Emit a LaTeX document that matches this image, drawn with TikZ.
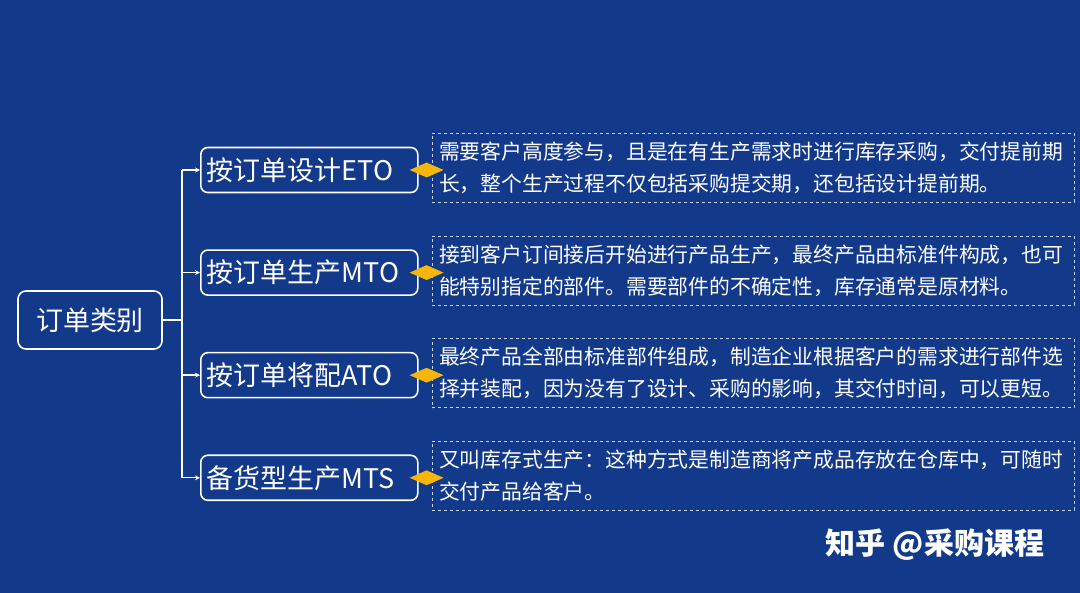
\documentclass[tikz,border=0pt]{standalone}
\usepackage{fontspec}
\setmainfont{Noto Sans CJK SC}
\usepackage{xcolor}
\usepackage{tikz}
\usetikzlibrary{arrows.meta,positioning,shapes.geometric}
\definecolor{bgblue}{RGB}{18,57,138}
\definecolor{gold}{RGB}{247,183,10}
\definecolor{dashline}{RGB}{200,214,240}

\begin{document}
\begin{tikzpicture}[
  x=1pt, y=-1pt,
  node distance=56pt,
  rootbox/.style={rectangle, rounded corners=8pt, draw=white, line width=1.6pt, text=white, font=\fontsize{27}{30}\selectfont, minimum width=144pt, minimum height=58pt},
  kindbox/.style={rectangle, rounded corners=7pt, draw=white, line width=1.6pt, text=white, font=\fontsize{27}{30}\selectfont, text width=205pt, align=left, inner xsep=6pt, minimum height=45pt},
  notebox/.style={rectangle, draw=dashline, dashed, line width=0.8pt, text=white, font=\fontsize{20.8}{32}\selectfont, text width=628pt, align=left, inner xsep=7pt, minimum height=69pt},
  gem/.style={diamond, fill=gold, minimum width=34pt, minimum height=15pt, inner sep=0pt},
  link/.style={draw=white, line width=1.4pt},
  arrow/.style={-{Stealth[length=5pt,width=5pt]}, link}
]
\fill[bgblue] (0,0) rectangle (1080,593);
\useasboundingbox (0,0) rectangle (1080,593);

\node[rootbox] (root) at (90,320) {订单类别};

\node[kindbox, anchor=west] (eto) at (200,170) {按订单设计ETO};
\node[kindbox, below=of eto] (mto) {按订单生产MTO};
\node[kindbox, below=of mto] (ato) {按订单将配ATO};
\node[kindbox, below=of ato] (mts) {备货型生产MTS};

\node[notebox, right=13pt of eto, yshift=2pt] (etonote) {需要客户高度参与，且是在有生产需求时进行库存采购，交付提前期\\长，整个生产过程不仅包括采购提交期，还包括设计提前期。};
\node[notebox, right=13pt of mto, yshift=2pt] (mtonote) {接到客户订间接后开始进行产品生产，最终产品由标准件构成，也可\\能特别指定的部件。需要部件的不确定性，库存通常是原材料。};
\node[notebox, right=13pt of ato, yshift=2pt] (atonote) {最终产品全部由标准部件组成，制造企业根据客户的需求进行部件选\\择并装配，因为没有了设计、采购的影响，其交付时间，可以更短。};
\node[notebox, right=13pt of mts, yshift=2pt] (mtsnote) {又叫库存式生产：这种方式是制造商将产成品存放在仓库中，可随时\\交付产品给客户。};

% tree lines
\draw[link] (root.east) -- ++(19,0) coordinate (fork);
\draw[link] (fork |- eto.west) -- (fork |- mts.west);
\foreach \k in {eto,mto,ato,mts}
  \draw[arrow] (fork |- \k.west) -- (\k.west);

% markers
\foreach \k in {eto,mto,ato,mts}
  \node[gem] (\k-gem) at ([xshift=8pt]\k.east) {};

\node[text=white, font=\fontsize{30}{32}\selectfont\bfseries] (mark) at (935,545) {知乎 @采购课程};
\end{tikzpicture}
\end{document}
